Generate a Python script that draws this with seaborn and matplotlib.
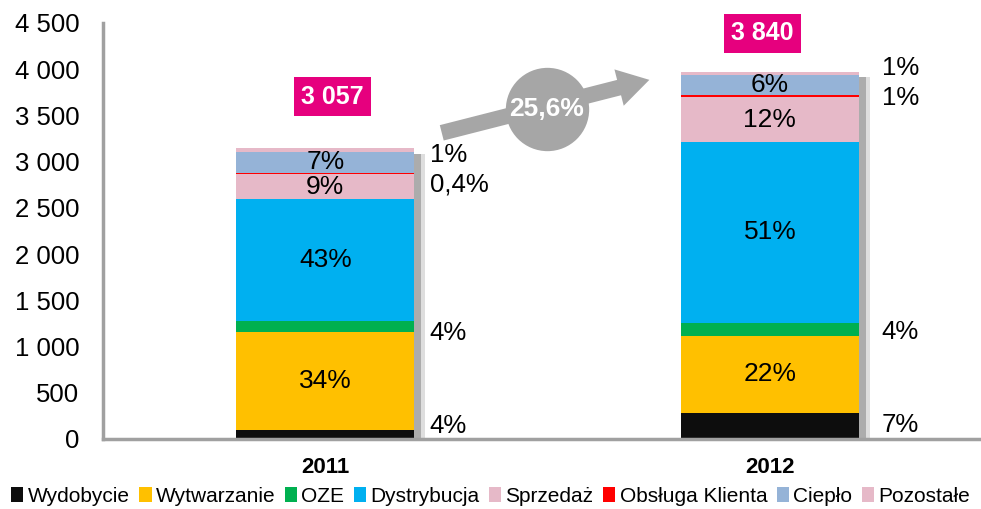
import matplotlib
matplotlib.use("Agg")
import matplotlib.pyplot as plt
import matplotlib.patheffects as pe
from matplotlib.patches import Patch
import numpy as np
import pandas as pd
import seaborn as sns

# ---------------- dane ----------------
LATA = ["2011", "2012"]
SEGMENTY = ["Wydobycie", "Wytwarzanie", "OZE", "Dystrybucja", "Sprzedaż",
            "Obsługa Klienta", "Ciepło", "Pozostałe"]
WARTOSCI_2011 = [97, 1058, 125, 1314, 270, 16, 229, 37]
WARTOSCI_2012 = [278, 840, 141, 1952, 485, 22, 221, 36]
KOLORY = ["#0D0D0D", "#FFC000", "#00B050", "#00B0F0", "#E6B9C8",
          "#FF0000", "#95B3D7", "#E6B9C8"]

# etykiety wewnatrz slupkow (segment -> tekst)
ETYKIETY_W_2011 = {"Wytwarzanie": "34%", "Dystrybucja": "43%", "Sprzedaż": "9%", "Ciepło": "7%"}
ETYKIETY_W_2012 = {"Wytwarzanie": "22%", "Dystrybucja": "51%", "Sprzedaż": "12%", "Ciepło": "6%"}

# etykiety obok slupkow
ETYKIETY_Z_2011 = ["1%", "0,4%", "4%", "4%"]
ETYKIETY_Z_2012 = ["1%", "1%", "4%", "7%"]
POZ_Y_Z_2011 = [3074, 2749, 1147, 141]
POZ_Y_Z_2012 = [4015, 3690, 1158, 152]

SUMY = ["3 057", "3 840"]
WZROST = "25,6%"

df = pd.DataFrame({
    "rok": np.repeat(LATA, len(SEGMENTY)),
    "segment": SEGMENTY * 2,
    "wartosc": WARTOSCI_2011 + WARTOSCI_2012,
})
df["skumulowana"] = df.groupby("rok")["wartosc"].cumsum()
df["dol"] = df["skumulowana"] - df["wartosc"]

plt.rcParams["font.family"] = ["Liberation Sans", "DejaVu Sans"]

fig = plt.figure(figsize=(9.81, 5.09), dpi=100)
ax = fig.add_axes([103 / 981, 1 - 439 / 509, 1 - 103 / 981, (439 - 23) / 509])

# slupki skumulowane: rysowane od gory w dol
SZER = 0.4
for i in range(len(SEGMENTY) - 1, -1, -1):
    sub = df[df["segment"] == SEGMENTY[i]]
    sns.barplot(data=sub, x="rok", y="skumulowana", order=LATA, color=KOLORY[i],
                width=SZER, saturation=1, errorbar=None, ax=ax,
                linewidth=0, edgecolor="none")

# cien za slupkami (tylko najwyzsza warstwa)
for bar in ax.patches[:2]:
    bar.set_path_effects([
        pe.SimplePatchShadow(offset=(8, -4), shadow_rgbFace="#BFBFBF", alpha=0.5),
        pe.SimplePatchShadow(offset=(5, -4), shadow_rgbFace="#8C8C8C", alpha=0.6),
        pe.Normal()])

# etykiety wewnatrz
for xi, (rok, ety) in enumerate(zip(LATA, [ETYKIETY_W_2011, ETYKIETY_W_2012])):
    d = df[df["rok"] == rok].set_index("segment")
    for seg, txt in ety.items():
        y = (d.loc[seg, "dol"] + d.loc[seg, "skumulowana"]) / 2
        ax.text(xi, y, txt, ha="center", va="center", fontsize=19, color="black")

# etykiety z boku
for xi, dx, ety, poz in [(0, 0.235, ETYKIETY_Z_2011, POZ_Y_Z_2011),
                         (1, 0.252, ETYKIETY_Z_2012, POZ_Y_Z_2012)]:
    for txt, y in zip(ety, poz):
        ax.text(xi + dx, y, txt, ha="left", va="center", fontsize=18.5, color="black")

# sumy w rozowych ramkach
for xi, dx, y, txt in [(0, 0.016, 3701, SUMY[0]), (1, -0.016, 4389, SUMY[1])]:
    ax.text(xi + dx, y, txt, ha="center", va="center", fontsize=18,
            fontweight="bold", color="white",
            bbox=dict(boxstyle="square,pad=0.3", fc="#E6007E", ec="none"))

# strzalka i kolo ze wzrostem
ax.annotate("", xy=(0.729, 3885), xytext=(0.262, 3312),
            arrowprops=dict(arrowstyle="simple,head_width=0.9,head_length=0.75,tail_width=0.38",
                            mutation_scale=30, fc="#A6A6A6", ec="none", shrinkA=0, shrinkB=0))
ax.scatter([0.498], [3570], s=3600, color="#A6A6A6", zorder=5, linewidths=0)
ax.text(0.498, 3570, WZROST, ha="center", va="center", fontsize=19,
        fontweight="bold", color="white", zorder=6)

# osie
ax.set_xlim(-0.5, 1.475)
ax.set_ylim(0, 4500)
ticks = list(range(0, 4501, 500))
ax.set_yticks(ticks)
ax.set_yticklabels([f"{t:,}".replace(",", " ") for t in ticks], fontsize=18.5)
ax.tick_params(axis="y", length=0, pad=17)
ax.tick_params(axis="x", length=0, pad=13)
ax.set_xticks([0, 1])
ax.set_xticklabels(LATA, fontsize=16, fontweight="bold")
ax.set_xlabel("")
ax.set_ylabel("")
for s in ["top", "right"]:
    ax.spines[s].set_visible(False)
for s in ["left", "bottom"]:
    ax.spines[s].set_color("#A0A0A0")
    ax.spines[s].set_linewidth(2.5)
ax.set_facecolor("white")

# legenda
uchwyty = [Patch(facecolor=k, edgecolor="none", label=s) for s, k in zip(SEGMENTY, KOLORY)]
fig.legend(handles=uchwyty, loc="center", bbox_to_anchor=(0.5, 0.025), ncol=8,
           frameon=False, fontsize=15, handlelength=0.6, handleheight=0.7,
           handletextpad=0.2, columnspacing=0.45, borderpad=0)

fig.savefig("out.png", dpi=100, facecolor="white")
